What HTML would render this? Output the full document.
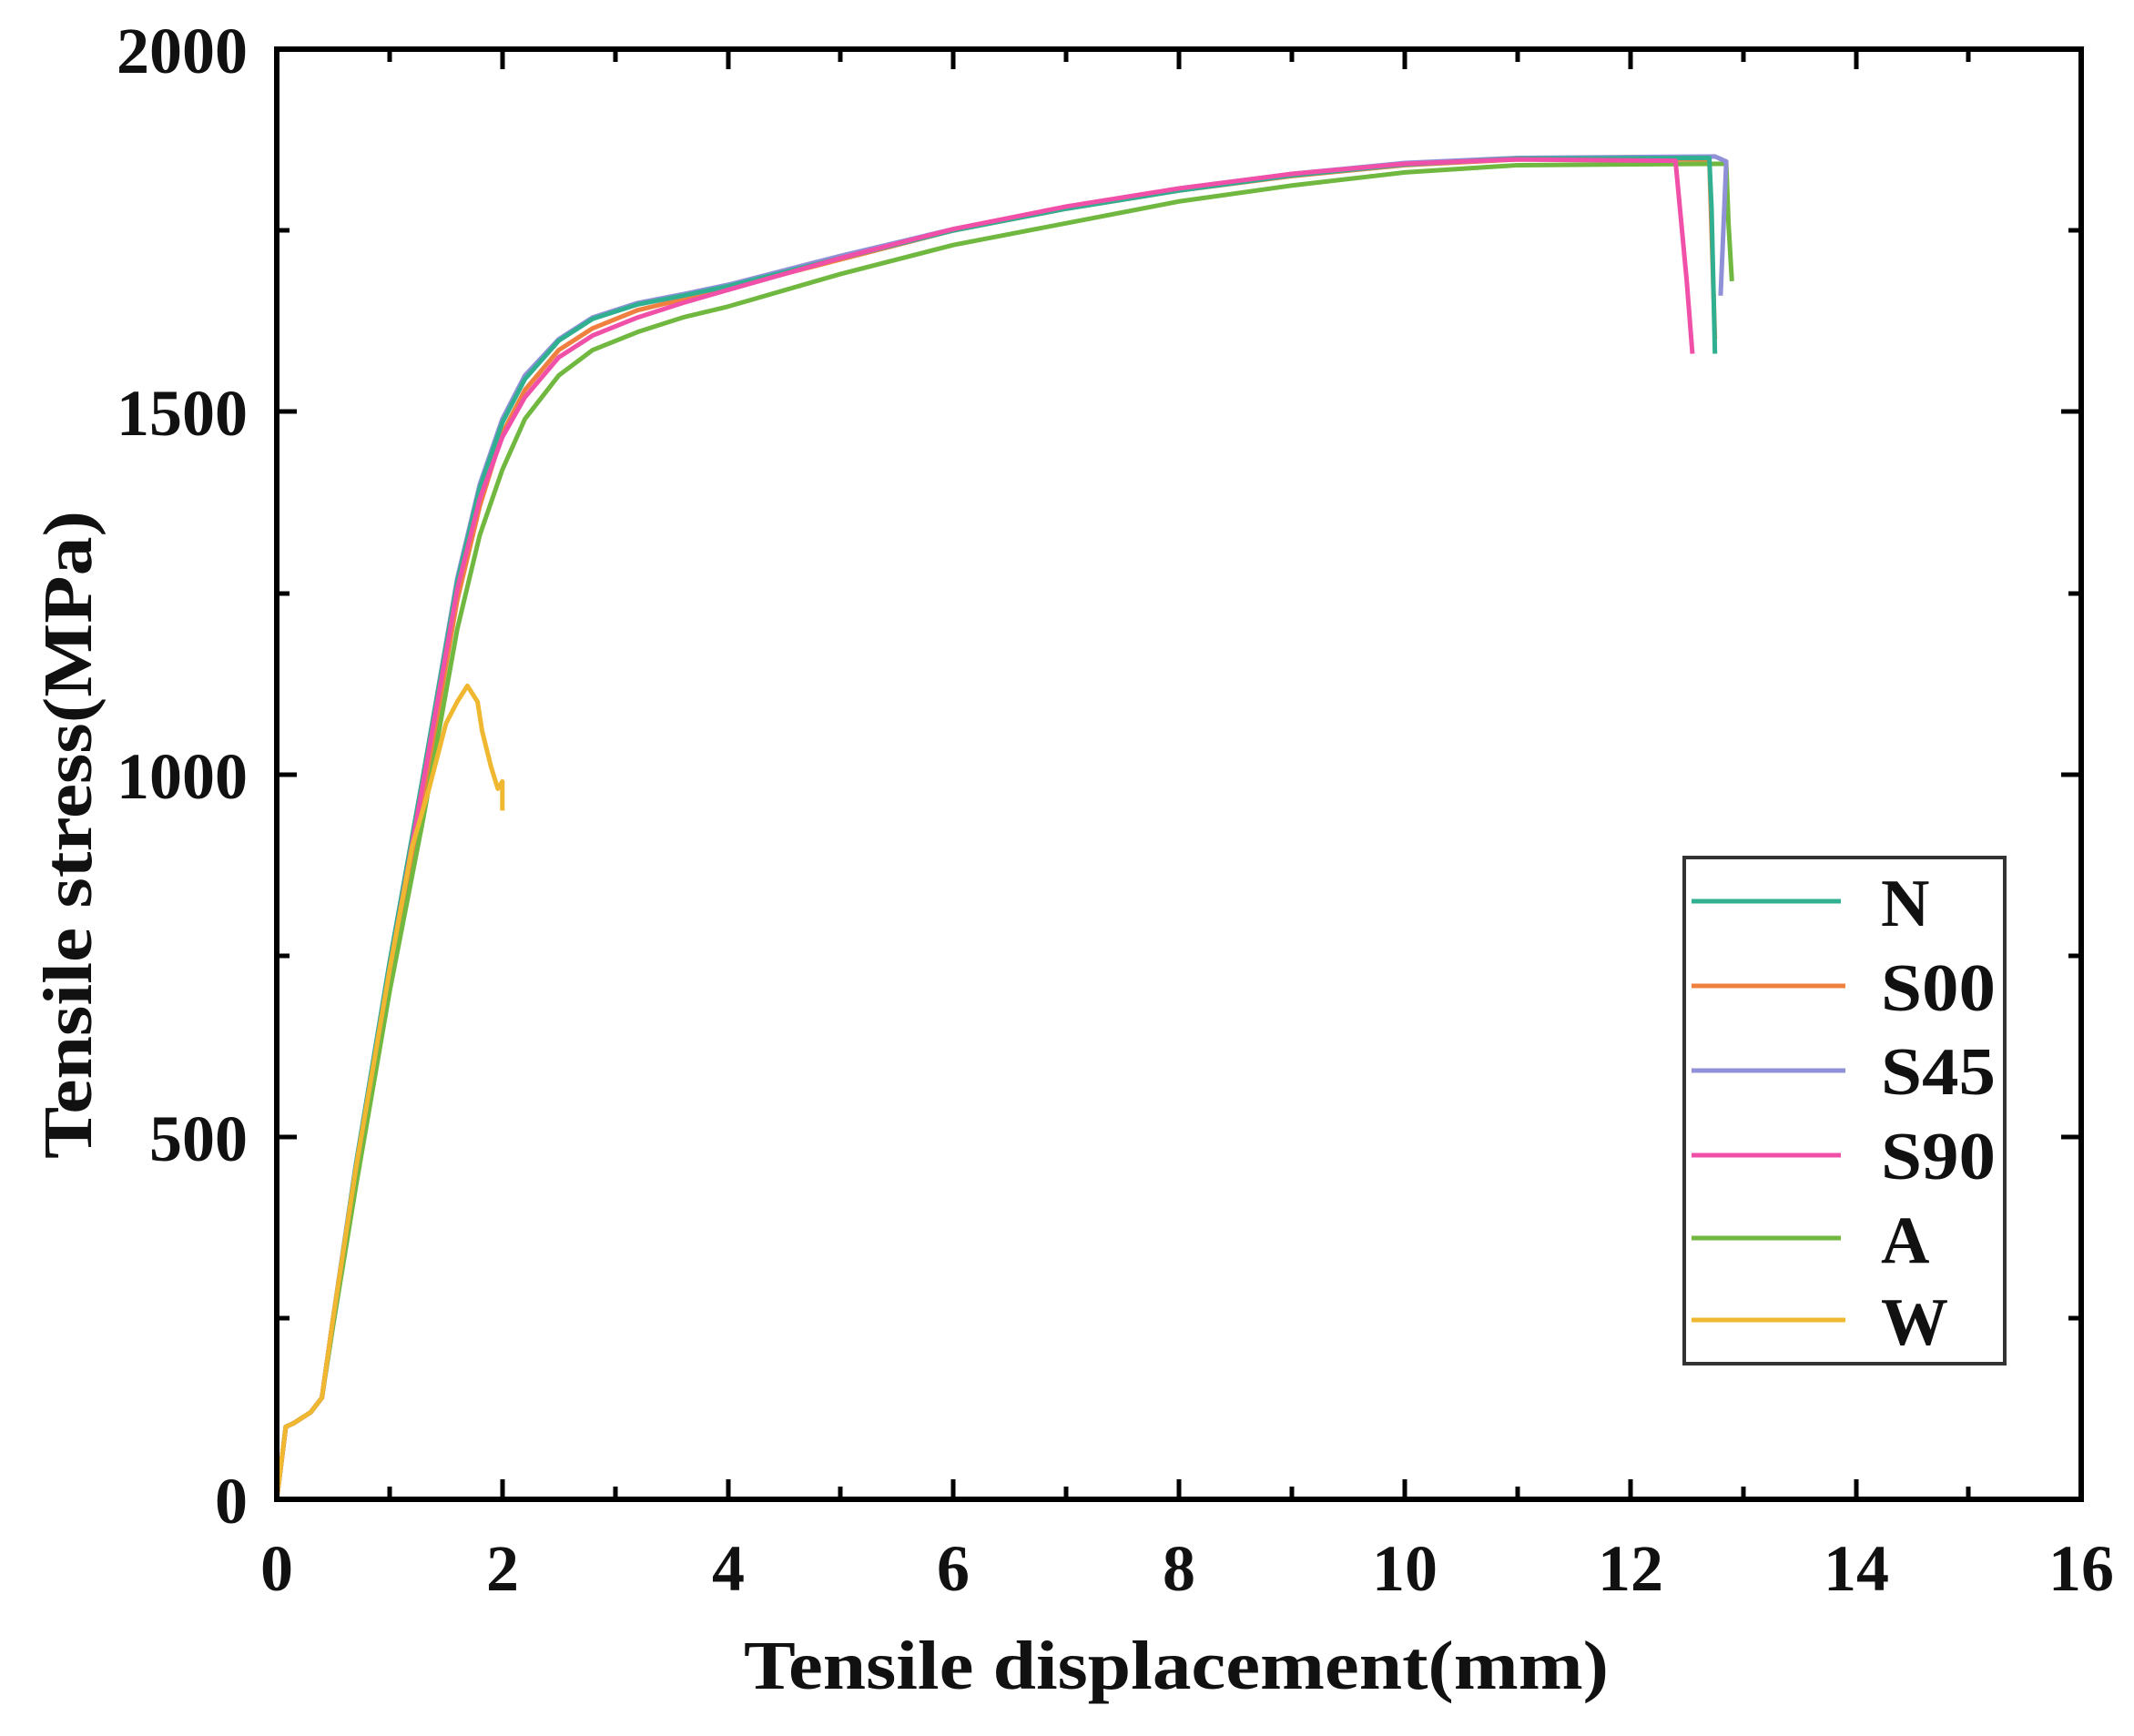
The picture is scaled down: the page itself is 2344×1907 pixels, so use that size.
<!DOCTYPE html>
<html><head><meta charset="utf-8"><style>
html,body{margin:0;padding:0;background:#fff}
svg{display:block}
text{font-family:"Liberation Serif",serif;font-weight:bold;fill:#111}
</style></head><body>
<svg width="2344" height="1907" viewBox="0 0 2344 1907" xmlns="http://www.w3.org/2000/svg">
<g fill="none" stroke-width="5" stroke-linejoin="round" transform="translate(304,1647) scale(123.9,-0.7965)">
<polyline vector-effect="non-scaling-stroke" stroke="#f08040" points="0,0 0.08,100 0.15,105 0.3,120 0.4,140 0.5,250 0.7,450 1.0,720 1.3,970 1.6,1240 1.8,1370 2.0,1470 2.2,1530 2.5,1585 2.8,1615 3.2,1640 3.6,1655 4,1670 5,1710 6,1750 7,1780 8,1805 9,1825 10,1840 11,1848 12.7,1848 12.75,1600"/>
<polyline vector-effect="non-scaling-stroke" stroke="#70b840" points="0,0 0.08,100 0.15,105 0.3,120 0.4,140 0.5,240 0.7,430 1.0,700 1.3,940 1.6,1200 1.8,1330 2.0,1420 2.2,1490 2.5,1550 2.8,1585 3.2,1610 3.6,1630 4,1645 5,1690 6,1730 7,1760 8,1790 9,1812 10,1830 11,1840 12.85,1842 12.87,1760 12.9,1680"/>
<polyline vector-effect="non-scaling-stroke" stroke="#9090d8" points="0,0 0.08,100 0.15,105 0.3,120 0.4,140 0.5,250 0.7,460 1.0,740 1.3,1000 1.6,1270 1.8,1400 2.0,1490 2.2,1550 2.5,1600 2.8,1630 3.2,1650 3.6,1662 4,1675 5,1715 6,1752 7,1782 8,1808 9,1828 10,1843 11,1850 12.75,1852 12.85,1845 12.8,1660"/>
<polyline vector-effect="non-scaling-stroke" stroke="#30b090" points="0,0 0.08,100 0.15,105 0.3,120 0.4,140 0.5,250 0.7,460 1.0,740 1.3,1000 1.6,1265 1.8,1395 2.0,1485 2.2,1545 2.5,1598 2.8,1628 3.2,1648 3.6,1660 4,1673 5,1712 6,1750 7,1780 8,1805 9,1826 10,1841 11,1849 12.7,1850 12.72,1780 12.75,1580"/>
<polyline vector-effect="non-scaling-stroke" stroke="#f050a8" points="0,0 0.08,100 0.15,105 0.3,120 0.4,140 0.5,250 0.7,455 1.0,730 1.3,990 1.6,1255 1.8,1380 2.0,1465 2.2,1520 2.5,1575 2.8,1605 3.2,1630 3.6,1650 4,1668 5,1712 6,1752 7,1783 8,1808 9,1828 10,1842 11,1848 12.4,1846 12.5,1680 12.55,1580"/>
<polyline vector-effect="non-scaling-stroke" stroke="#f0b830" points="0,0 0.08,100 0.15,105 0.3,120 0.4,140 0.5,250 0.7,455 1.0,730 1.2,900 1.35,980 1.5,1070 1.6,1100 1.69,1122 1.78,1100 1.82,1060 1.9,1010 1.96,980 2.0,990 2.0,950"/>
</g>
<rect x="304" y="54" width="1982" height="1593" fill="none" stroke="#000" stroke-width="6"/>
<g stroke="#000" stroke-width="5">
<path d="M428,1647v-14M552,1647v-22M676,1647v-14M800,1647v-22M923,1647v-14M1047,1647v-22M1171,1647v-14M1295,1647v-22M1419,1647v-14M1543,1647v-22M1667,1647v-14M1791,1647v-22M1915,1647v-14M2039,1647v-22M2162,1647v-14"/>
<path d="M428,54v14M552,54v22M676,54v14M800,54v22M923,54v14M1047,54v22M1171,54v14M1295,54v22M1419,54v14M1543,54v22M1667,54v14M1791,54v22M1915,54v14M2039,54v22M2162,54v14"/>
<path d="M304,1448h14M304,1249h22M304,1050h14M304,851h22M304,652h14M304,452h22M304,253h14"/>
<path d="M2286,1448h-14M2286,1249h-22M2286,1050h-14M2286,851h-22M2286,652h-14M2286,452h-22M2286,253h-14"/>
</g>
<g font-size="72" text-anchor="end">
<text x="272" y="80">2000</text>
<text x="272" y="478">1500</text>
<text x="272" y="877">1000</text>
<text x="272" y="1275">500</text>
<text x="272" y="1673">0</text>
</g>
<g font-size="72" text-anchor="middle">
<text x="304" y="1747">0</text><text x="552" y="1747">2</text><text x="800" y="1747">4</text><text x="1047" y="1747">6</text><text x="1295" y="1747">8</text><text x="1543" y="1747">10</text><text x="1791" y="1747">12</text><text x="2039" y="1747">14</text><text x="2286" y="1747">16</text>
</g>
<text x="1292" y="1855" font-size="76" text-anchor="middle" textLength="950" lengthAdjust="spacingAndGlyphs">Tensile displacement(mm)</text>
<text transform="translate(100,917) rotate(-90)" font-size="76" text-anchor="middle" textLength="712" lengthAdjust="spacingAndGlyphs">Tensile stress(MPa)</text>
<rect x="1850" y="942" width="352" height="556" fill="#fff" stroke="#333" stroke-width="4"/>
<g stroke-width="5">
<line x1="1858" y1="990" x2="2022" y2="990" stroke="#30b090"/>
<line x1="1858" y1="1083" x2="2027" y2="1083" stroke="#f08040"/>
<line x1="1858" y1="1176" x2="2027" y2="1176" stroke="#9090d8"/>
<line x1="1858" y1="1269" x2="2022" y2="1269" stroke="#f050a8"/>
<line x1="1858" y1="1360" x2="2022" y2="1360" stroke="#70b840"/>
<line x1="1858" y1="1450" x2="2027" y2="1450" stroke="#f0b830"/>
</g>
<g font-size="74">
<text x="2066" y="1017">N</text>
<text x="2066" y="1110" textLength="126" lengthAdjust="spacingAndGlyphs">S00</text>
<text x="2066" y="1202" textLength="126" lengthAdjust="spacingAndGlyphs">S45</text>
<text x="2066" y="1295" textLength="126" lengthAdjust="spacingAndGlyphs">S90</text>
<text x="2066" y="1387">A</text>
<text x="2066" y="1477">W</text>
</g>
</svg>
</body></html>
